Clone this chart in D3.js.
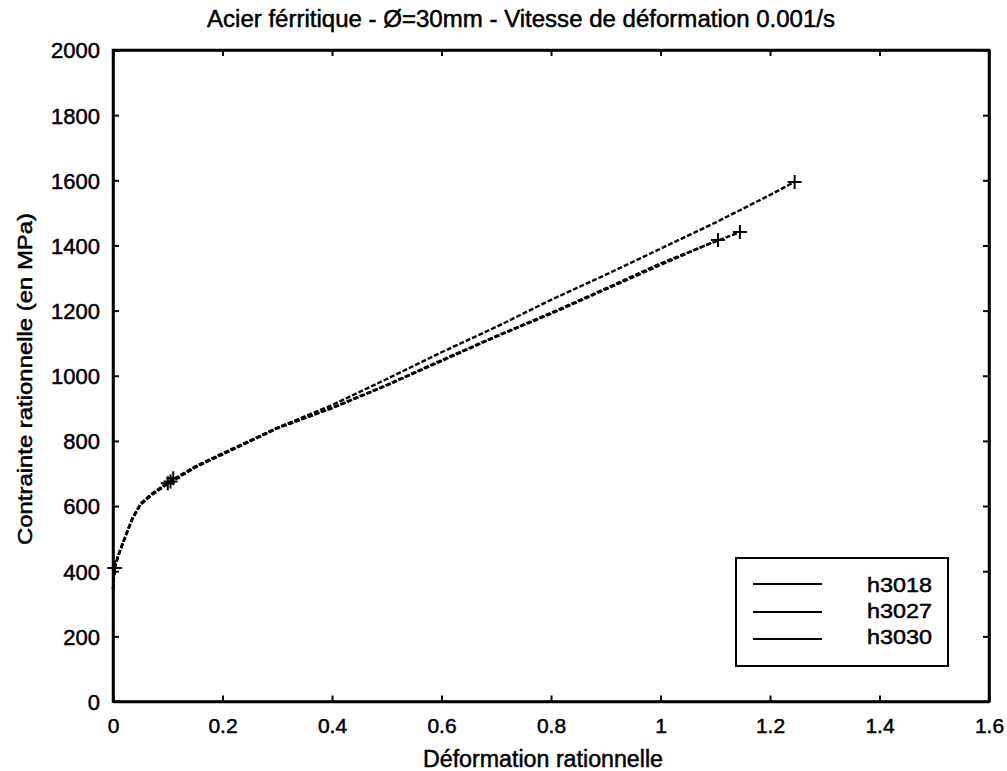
<!DOCTYPE html>
<html><head><meta charset="utf-8">
<script src="https://cdn.jsdelivr.net/npm/d3@7"></script>
<style>body{margin:0;background:#fff}svg{display:block}text{font-family:"Liberation Sans",Arial,sans-serif;fill:#000;stroke:#000;stroke-width:0.5px}</style>
</head><body><svg id="c" width="1007" height="771"></svg>
<script>
const title = "Acier férritique - Ø=30mm - Vitesse de déformation 0.001/s";
const xLabel = "Déformation rationnelle";
const yLabel = "Contrainte rationnelle (en MPa)";
const xTicks = [0,0.2,0.4,0.6,0.8,1,1.2,1.4,1.6];
const yTicks = [0,200,400,600,800,1000,1200,1400,1600,1800,2000];
const seriesNames = ["h3018","h3027","h3030"];
const strainA = [0,0.003,0.01,0.02,0.035,0.05,0.07,0.1,0.15,0.2,0.3,0.4,0.5,0.6,0.7,0.8,0.9,1.0,1.1,1.2,1.245];
const stressA = [345,410,450,495,560,605,635,670,720,760,840,910,990,1072,1150,1233,1310,1390,1470,1555,1595];
const strainB = [0,0.003,0.01,0.02,0.035,0.05,0.07,0.1,0.15,0.2,0.3,0.4,0.5,0.6,0.7,0.8,0.9,1.0,1.105];
const stressB = [345,410,448,493,558,603,633,668,718,758,838,900,970,1045,1120,1190,1265,1340,1417];
const strainC = [0,0.003,0.01,0.02,0.035,0.05,0.07,0.1,0.15,0.2,0.3,0.4,0.5,0.6,0.7,0.8,0.9,1.0,1.1,1.145];
const stressC = [345,410,452,497,562,607,637,672,722,762,840,902,972,1048,1122,1193,1268,1345,1412,1441];
const markA = [[0.003,410],[0.1,670],[1.245,1595]];
const markB = [[0.003,410],[0.105,675],[1.105,1417]];
const markC = [[0.003,410],[0.11,685],[1.145,1441]];

const svg = d3.select("#c");
const L=113,R=989,T=50,B=701.5;
const x = d3.scaleLinear().domain([0,1.6]).range([L,R]);
const y = d3.scaleLinear().domain([0,2000]).range([B,T]);

svg.append("text").attr("x",207).attr("y",27).attr("font-size",23)
  .attr("textLength",628).attr("lengthAdjust","spacingAndGlyphs").text(title);

const g = svg.append("g");
const xa = g.append("g").attr("transform",`translate(0,${B})`).call(d3.axisBottom(x).tickValues(xTicks).tickFormat(d=>String(d)).tickSizeInner(-6).tickSizeOuter(0).tickPadding(0));
g.append("g").attr("transform",`translate(0,${T})`).call(d3.axisTop(x).tickValues(xTicks).tickFormat("").tickSizeInner(-6).tickSizeOuter(0));
const ya = g.append("g").attr("transform",`translate(${L},0)`).call(d3.axisLeft(y).tickValues(yTicks).tickFormat(d=>String(d)).tickSizeInner(-6).tickSizeOuter(0).tickPadding(13));
g.append("g").attr("transform",`translate(${R},0)`).call(d3.axisRight(y).tickValues(yTicks).tickFormat("").tickSizeInner(-6).tickSizeOuter(0));
g.selectAll(".domain").attr("stroke","#000").attr("stroke-width",2.5);
g.selectAll(".tick line").attr("stroke","#000").attr("stroke-width",2);
xa.selectAll(".tick text").attr("font-size",21).attr("dy",null).attr("y",31);
ya.selectAll(".tick text").attr("font-size",22).attr("dy","0.36em");
svg.append("rect").attr("x",L).attr("y",T).attr("width",R-L).attr("height",B-T).attr("fill","none").attr("stroke","#000").attr("stroke-width",2.5);

svg.append("text").attr("x",423).attr("y",767).attr("font-size",23)
  .attr("textLength",240).attr("lengthAdjust","spacingAndGlyphs").text(xLabel);
svg.append("text").attr("transform","translate(32,545) rotate(-90)").attr("font-size",21)
  .attr("textLength",332).attr("lengthAdjust","spacingAndGlyphs").text(yLabel);

const line = d3.line().x(d=>x(d[0])).y(d=>y(d[1]));
const series = [[strainA,stressA,markA],[strainB,stressB,markB],[strainC,stressC,markC]];
series.forEach(([sx,sy,mk])=>{
  const pts = sx.map((v,i)=>[v,sy[i]]);
  svg.append("path").datum(pts).attr("d",line).attr("fill","none").attr("stroke","#000").attr("stroke-width",2.4).attr("stroke-dasharray","5,2");
  mk.forEach(m=>{
    const cx=x(m[0]),cy=y(m[1]);
    svg.append("path").attr("d",`M${cx-7},${cy}H${cx+7}M${cx},${cy-7}V${cy+7}`).attr("stroke","#000").attr("stroke-width",2);
  });
});

const lg = svg.append("g");
lg.append("rect").attr("x",736).attr("y",558).attr("width",212).attr("height",108).attr("fill","#fff").attr("stroke","#000").attr("stroke-width",2);
const ly=[584,612,639], ty=[592,618,644];
seriesNames.forEach((n,i)=>{
  lg.append("line").attr("x1",753).attr("x2",822).attr("y1",ly[i]).attr("y2",ly[i]).attr("stroke","#000").attr("stroke-width",2);
  lg.append("text").attr("x",867).attr("y",ty[i]).attr("font-size",21)
    .attr("textLength",65).attr("lengthAdjust","spacingAndGlyphs").text(n);
});
</script></body></html>
